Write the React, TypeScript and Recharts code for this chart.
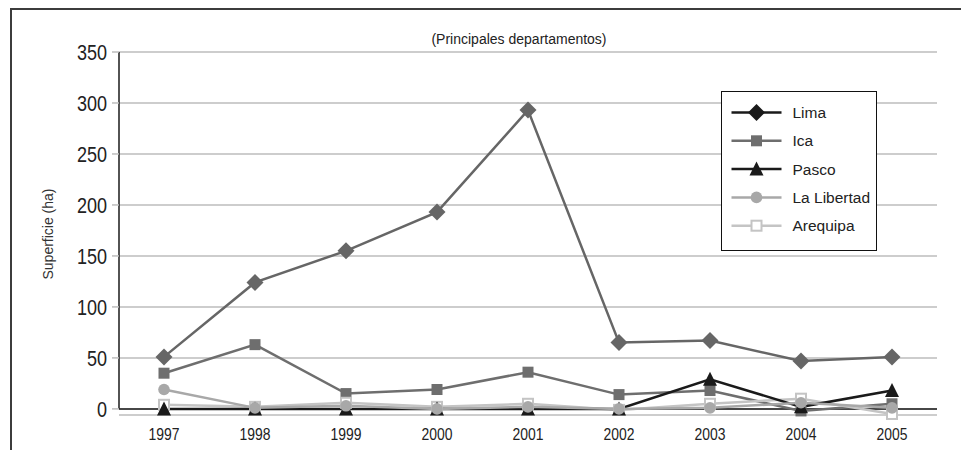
import React from 'react';
import { LineChart, Line, XAxis, YAxis, CartesianGrid, ReferenceLine, Legend } from 'recharts';

// Cultivated area by department, 1997–2005 (hectares)
const years = ['1997', '1998', '1999', '2000', '2001', '2002', '2003', '2004', '2005'];
const lima = [51, 124, 155, 193, 293, 65, 67, 47, 51];
const ica = [35, 63, 15, 19, 36, 14, 18, -2, 5];
const pasco = [0, 0, 0, 0, 0, 0, 29, 2, 18];
const laLibertad = [19, 1, 3, 0, 2, 0, 1, 6, 1];
const arequipa = [4, 2, 6, 2, 5, -1, 5, 10, -5];
const yTicks = [0, 50, 100, 150, 200, 250, 300, 350];

const FONT = "'Liberation Sans', Arial, Helvetica, sans-serif";
const NARROW = 0.82;

type Shape = 'diamond' | 'square' | 'triangle' | 'circle' | 'openSquare';

interface Series {
  key: string;
  name: string;
  values: number[];
  color: string;
  legendColor: string;
  shape: Shape;
}

const limaSeries: Series = { key: 'lima', name: 'Lima', values: lima, color: '#666666', legendColor: '#1a1a1a', shape: 'diamond' };
const icaSeries: Series = { key: 'ica', name: 'Ica', values: ica, color: '#6e6e6e', legendColor: '#6e6e6e', shape: 'square' };
const pascoSeries: Series = { key: 'pasco', name: 'Pasco', values: pasco, color: '#1a1a1a', legendColor: '#1a1a1a', shape: 'triangle' };
const laLibertadSeries: Series = { key: 'laLibertad', name: 'La Libertad', values: laLibertad, color: '#a8a8a8', legendColor: '#a8a8a8', shape: 'circle' };
const arequipaSeries: Series = { key: 'arequipa', name: 'Arequipa', values: arequipa, color: '#c4c4c4', legendColor: '#c4c4c4', shape: 'openSquare' };

// paint order of the lines, and order of the legend entries
const drawOrder = [limaSeries, icaSeries, arequipaSeries, pascoSeries, laLibertadSeries];
const legendOrder = [limaSeries, icaSeries, pascoSeries, laLibertadSeries, arequipaSeries];

const data = years.map((year, i) => {
  const row: Record<string, string | number> = { year };
  drawOrder.forEach((s) => {
    row[s.key] = s.values[i];
  });
  return row;
});

function Marker({ shape, cx, cy, color }: { shape: Shape; cx: number; cy: number; color: string }) {
  switch (shape) {
    case 'diamond': {
      const s = 8.5;
      return <polygon points={`${cx},${cy - s} ${cx + s},${cy} ${cx},${cy + s} ${cx - s},${cy}`} fill={color} />;
    }
    case 'square':
      return <rect x={cx - 5.5} y={cy - 5.5} width={11} height={11} fill={color} />;
    case 'triangle':
      return <polygon points={`${cx},${cy - 7.5} ${cx + 7},${cy + 6.5} ${cx - 7},${cy + 6.5}`} fill={color} />;
    case 'circle':
      return <circle cx={cx} cy={cy} r={5.8} fill={color} />;
    case 'openSquare':
    default:
      return <rect x={cx - 5} y={cy - 5} width={10} height={10} fill="#ffffff" stroke={color} strokeWidth={2} />;
  }
}

// condensed tick labels
const YTick = (props: any) => {
  const { x, y, payload } = props;
  return (
    <g transform={`translate(${x},${y})`}>
      <text transform={`scale(${NARROW},1)`} textAnchor="end" dy="0.37em" fontFamily={FONT} fontSize={22} fill="#222">
        {payload.value}
      </text>
    </g>
  );
};

const XTick = (props: any) => {
  const { x, y, payload } = props;
  return (
    <g transform={`translate(${x},${y})`}>
      <text transform={`scale(${NARROW},1)`} textAnchor="middle" dy="0.71em" fontFamily={FONT} fontSize={17} fill="#222">
        {payload.value}
      </text>
    </g>
  );
};

const renderLegend = () => (
  <div
    style={{
      width: 156,
      height: 160,
      boxSizing: 'border-box',
      border: '1.5px solid #111',
      background: '#ffffff',
    }}
  >
    <svg width={153} height={157} style={{ display: 'block' }}>
      {legendOrder.map((s, i) => {
        const y = 20.5 + i * 28.3;
        return (
          <g key={s.key}>
            <line x1={9.5} x2={59.5} y1={y} y2={y} stroke={s.legendColor} strokeWidth={2.5} />
            <Marker shape={s.shape} cx={34.5} cy={y} color={s.legendColor} />
            <text x={70.5} y={y} dy="0.36em" fontFamily={FONT} fontSize={15.5} fill="#222">
              {s.name}
            </text>
          </g>
        );
      })}
    </svg>
  </div>
);

const renderYLabel = () => (
  <text
    x={48}
    y={234}
    transform="rotate(-90 48 234)"
    textAnchor="middle"
    dy="0.36em"
    fontFamily={FONT}
    fontSize={14}
    fill="#333333"
  >
    Superficie (ha)
  </text>
);

export default function App() {
  return (
    <div style={{ position: 'absolute', left: 0, top: 0, width: 961, height: 450, overflow: 'hidden', background: '#fff' }}>
      <div
        style={{
          position: 'absolute',
          left: 10,
          top: 8,
          width: 1100,
          height: 600,
          border: '2px solid #3c3c3c',
        }}
      />
      <div
        style={{
          position: 'absolute',
          left: 319,
          top: 31,
          width: 400,
          textAlign: 'center',
          fontFamily: FONT,
          fontSize: 14,
          color: '#222',
        }}
      >
        (Principales departamentos)
      </div>
      <div style={{ position: 'absolute', left: 0, top: 0 }}>
        <LineChart width={961} height={450} data={data} margin={{ top: 52, right: 24, bottom: 0, left: 0 }}>
          <CartesianGrid vertical={false} stroke="#bdbdbd" strokeWidth={1.5} />
          <XAxis
            dataKey="year"
            axisLine={false}
            tickLine={false}
            tickSize={6}
            tickMargin={7}
            height={35}
            padding={{ left: 45, right: 45 }}
            tick={<XTick />}
          />
          <YAxis
            width={119}
            domain={[-6, 350]}
            ticks={yTicks}
            interval={0}
            axisLine={{ stroke: '#1a1a1a', strokeWidth: 1.5, strokeDasharray: '357 40' }}
            tickLine={{ stroke: '#bdbdbd', strokeWidth: 1.5 }}
            tickSize={7}
            tickMargin={5}
            tick={<YTick />}
            label={{ content: renderYLabel }}
          />
          <ReferenceLine y={0} stroke="#1a1a1a" strokeWidth={1.5} />
          {drawOrder.map((s) => (
            <Line
              key={s.key}
              dataKey={s.key}
              name={s.name}
              stroke={s.color}
              strokeWidth={2.5}
              isAnimationActive={false}
              dot={(p: any) => (
                <Marker key={`${s.key}-${p.index}`} shape={s.shape} cx={p.cx} cy={p.cy} color={s.color} />
              )}
              activeDot={false}
            />
          ))}
          <Legend
            layout="horizontal"
            align="center"
            verticalAlign="middle"
            content={renderLegend}
            wrapperStyle={{ left: 721, top: 91, width: 156, height: 160 }}
          />
        </LineChart>
      </div>
    </div>
  );
}
